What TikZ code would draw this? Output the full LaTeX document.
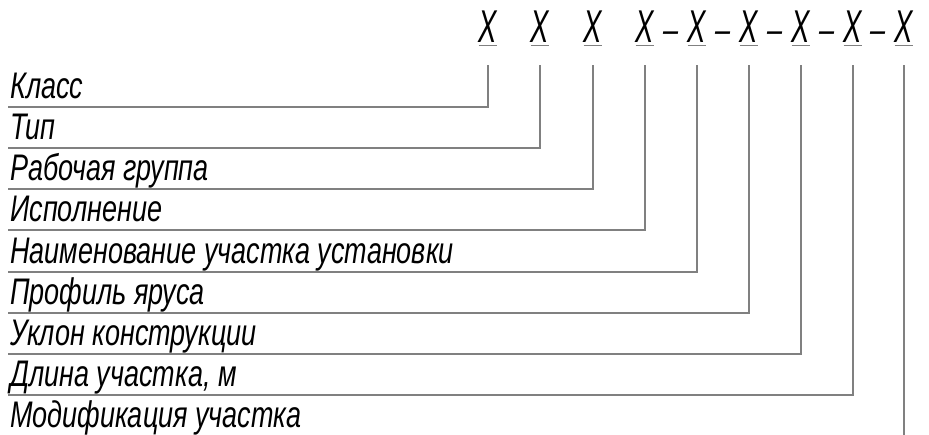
\documentclass[tikz,border=0pt]{standalone}
\usepackage{fontspec}
\usepackage{tikz}
\usetikzlibrary{calc}
\newfontfamily\gostfont{Liberation Sans}[FakeStretch=0.73]
\newfontfamily\gostnarrow{Liberation Sans}[FakeStretch=0.6]
\newcommand{\lblfont}{\gostfont\itshape\fontsize{37}{40}\selectfont}
\newcommand{\xfont}{\gostnarrow\itshape\fontsize{46}{50}\selectfont}

\begin{document}
\begin{tikzpicture}[x=1pt,y=-1pt,
  xm/.style={font=\xfont,inner xsep=0pt,inner ysep=2pt,text depth=0pt,anchor=base},
  dsh/.style={font=\lblfont,inner sep=0pt,anchor=base},
  lab/.style={font=\lblfont,anchor=south west,inner xsep=2pt,inner ysep=8pt,
              text depth=0pt},
  lead/.style={draw=black!50,line width=1.3pt}]
\useasboundingbox (0,0) rectangle (929,435);
% code positions
\node[xm] (x1) at (488,43) {X};
\node[xm] (x2) at (540,43) {X};
\node[xm] (x3) at (593,43) {X};
\node[xm] (x4) at (645,43) {X};
\node[xm] (x5) at (697,43) {X};
\node[xm] (x6) at (749,43) {X};
\node[xm] (x7) at (801,43) {X};
\node[xm] (x8) at (853,43) {X};
\node[xm] (x9) at (904,43) {X};
\node[dsh] (d1) at ($(x4.base)!0.5!(x5.base)$) {–};
\node[dsh] (d2) at ($(x5.base)!0.5!(x6.base)$) {–};
\node[dsh] (d3) at ($(x6.base)!0.5!(x7.base)$) {–};
\node[dsh] (d4) at ($(x7.base)!0.5!(x8.base)$) {–};
\node[dsh] (d5) at ($(x8.base)!0.5!(x9.base)$) {–};
% labels
\node[lab] (k1) at (8,107) {Класс};
\node[lab] (k2) at (8,148) {Тип};
\node[lab] (k3) at (8,189) {Рабочая группа};
\node[lab] (k4) at (8,230) {Исполнение};
\node[lab] (k5) at (8,272) {Наименование участка установки};
\node[lab] (k6) at (8,313) {Профиль яруса};
\node[lab] (k7) at (8,354) {Уклон конструкции};
\node[lab] (k8) at (8,395) {Длина участка, м};
\node[lab] (k9) at (8,436) {Модификация участка};
\coordinate (edge) at (0,435);
% underlines
\foreach \i in {1,...,9}
  \draw[lead] (x\i.south west) -- (x\i.south east);
% leaders
\draw[lead] ([yshift=-20pt]x1.south) |- (k1.south west);
\draw[lead] ([yshift=-20pt]x2.south) |- (k2.south west);
\draw[lead] ([yshift=-20pt]x3.south) |- (k3.south west);
\draw[lead] ([yshift=-20pt]x4.south) |- (k4.south west);
\draw[lead] ([yshift=-20pt]x5.south) |- (k5.south west);
\draw[lead] ([yshift=-20pt]x6.south) |- (k6.south west);
\draw[lead] ([yshift=-20pt]x7.south) |- (k7.south west);
\draw[lead] ([yshift=-20pt]x8.south) |- (k8.south west);
\draw[lead] ([yshift=-20pt]x9.south) -- (x9 |- edge);
\end{tikzpicture}
\end{document}
